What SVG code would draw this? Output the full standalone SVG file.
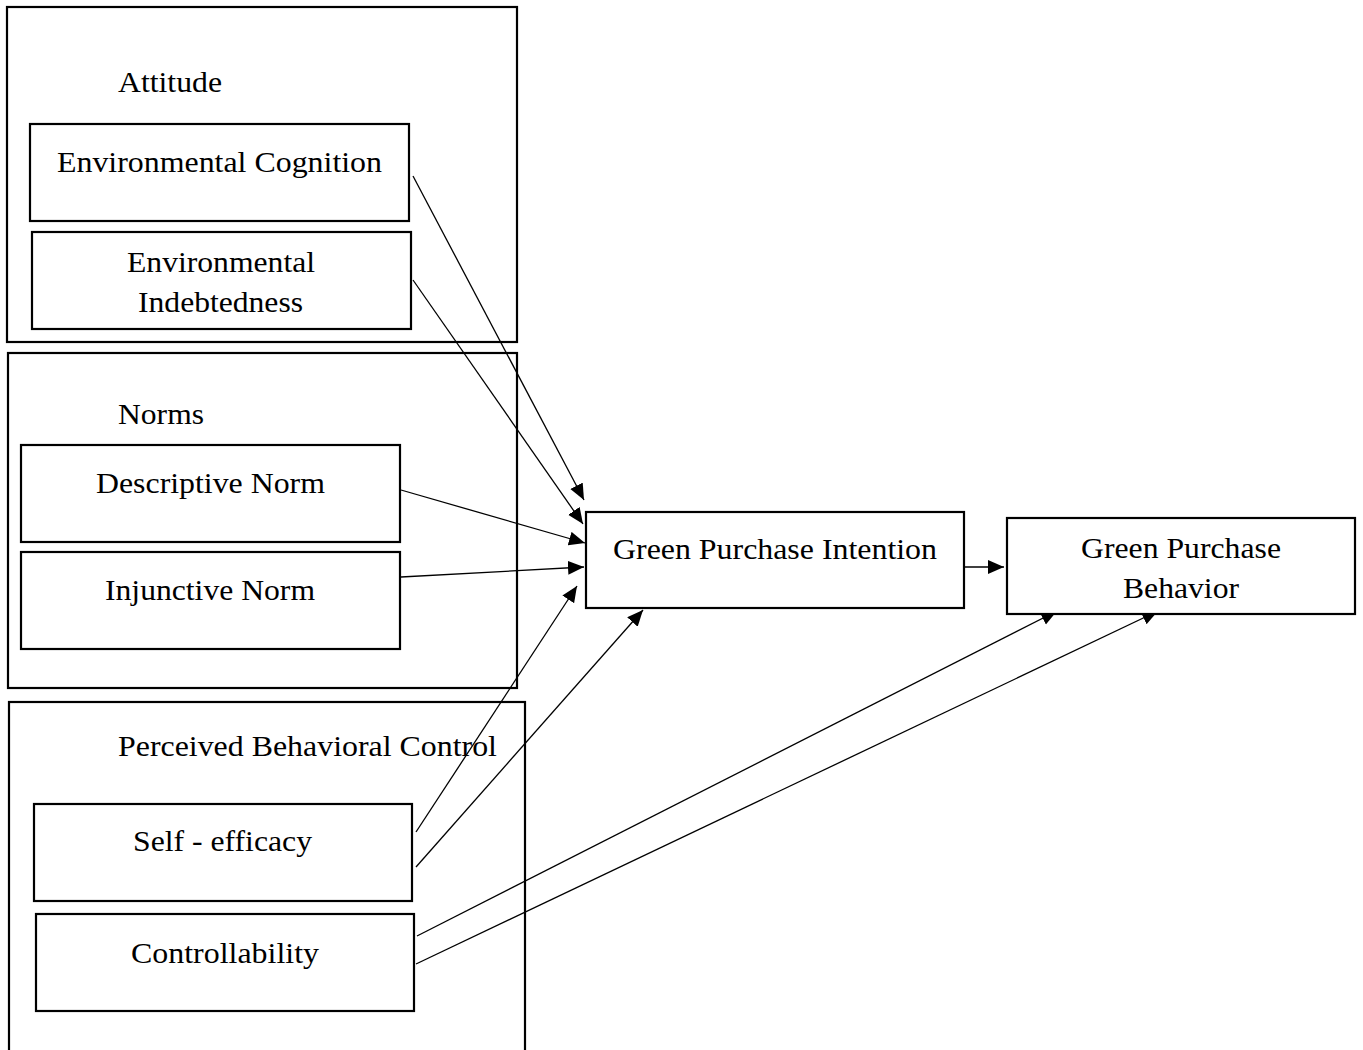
<svg xmlns="http://www.w3.org/2000/svg" width="1363" height="1050" viewBox="0 0 1363 1050">
<style>
.grp{fill:none;stroke:#000;stroke-width:2.2}
.box{fill:#fff;stroke:#000;stroke-width:2.2}
.lbl{font-family:"Liberation Serif","Times New Roman",serif;font-size:29px;fill:#000}
.c{text-anchor:middle}
.edge{stroke:#000;stroke-width:1.3;fill:none;marker-end:url(#ah)}
</style>
<defs>
<marker id="ah" markerUnits="userSpaceOnUse" markerWidth="17" markerHeight="15" refX="16" refY="7" orient="auto">
<path d="M0,0 L16,7 L0,14 z" fill="#000"/>
</marker>
</defs>
<rect width="1363" height="1050" fill="#fff"/>
<g id="attitude-group">
<rect class="grp" x="7" y="7" width="510" height="335"/>
<text class="lbl" x="118" y="92" textLength="104" lengthAdjust="spacingAndGlyphs">Attitude</text>
</g>
<g id="norms-group">
<rect class="grp" x="8" y="353" width="509" height="335"/>
<text class="lbl" x="118" y="424" textLength="86" lengthAdjust="spacingAndGlyphs">Norms</text>
</g>
<g id="pbc-group">
<rect class="grp" x="9" y="702" width="516" height="360"/>
<text class="lbl" x="118" y="756" textLength="379" lengthAdjust="spacingAndGlyphs">Perceived Behavioral Control</text>
</g>
<g id="connectors">
<line class="edge" x1="413" y1="176" x2="584" y2="500"/>
<line class="edge" x1="413" y1="280" x2="583" y2="524"/>
<line class="edge" x1="401" y1="490" x2="585" y2="543"/>
<line class="edge" x1="401" y1="577" x2="584" y2="567"/>
<line class="edge" x1="416" y1="832" x2="577" y2="586"/>
<line class="edge" x1="416" y1="867" x2="643" y2="610"/>
<line class="edge" x1="965" y1="567" x2="1004" y2="567"/>
<line class="edge" x1="417" y1="936" x2="1057" y2="611"/>
<line class="edge" x1="416" y1="964" x2="1158" y2="611"/>
</g>
<g id="environmental-cognition">
<rect class="box" x="30" y="124" width="379" height="97"/>
<text class="lbl" x="57" y="172" textLength="325" lengthAdjust="spacingAndGlyphs">Environmental Cognition</text>
</g>
<g id="environmental-indebtedness">
<rect class="box" x="32" y="232" width="379" height="97"/>
<text class="lbl" x="127" y="272" textLength="188" lengthAdjust="spacingAndGlyphs">Environmental</text>
<text class="lbl" x="138" y="312" textLength="165" lengthAdjust="spacingAndGlyphs">Indebtedness</text>
</g>
<g id="descriptive-norm">
<rect class="box" x="21" y="445" width="379" height="97"/>
<text class="lbl" x="96" y="493" textLength="229" lengthAdjust="spacingAndGlyphs">Descriptive Norm</text>
</g>
<g id="injunctive-norm">
<rect class="box" x="21" y="552" width="379" height="97"/>
<text class="lbl" x="105" y="600" textLength="210" lengthAdjust="spacingAndGlyphs">Injunctive Norm</text>
</g>
<g id="self-efficacy">
<rect class="box" x="34" y="804" width="378" height="97"/>
<text class="lbl" x="133" y="851" textLength="179" lengthAdjust="spacingAndGlyphs">Self - efficacy</text>
</g>
<g id="controllability">
<rect class="box" x="36" y="914" width="378" height="97"/>
<text class="lbl" x="131" y="963" textLength="188" lengthAdjust="spacingAndGlyphs">Controllability</text>
</g>
<g id="green-purchase-intention">
<rect class="box" x="586" y="512" width="378" height="96"/>
<text class="lbl" x="613" y="559" textLength="324" lengthAdjust="spacingAndGlyphs">Green Purchase Intention</text>
</g>
<g id="green-purchase-behavior">
<rect class="box" x="1007" y="518" width="348" height="96"/>
<text class="lbl" x="1081" y="558" textLength="200" lengthAdjust="spacingAndGlyphs">Green Purchase</text>
<text class="lbl" x="1123" y="598" textLength="116" lengthAdjust="spacingAndGlyphs">Behavior</text>
</g>
</svg>
